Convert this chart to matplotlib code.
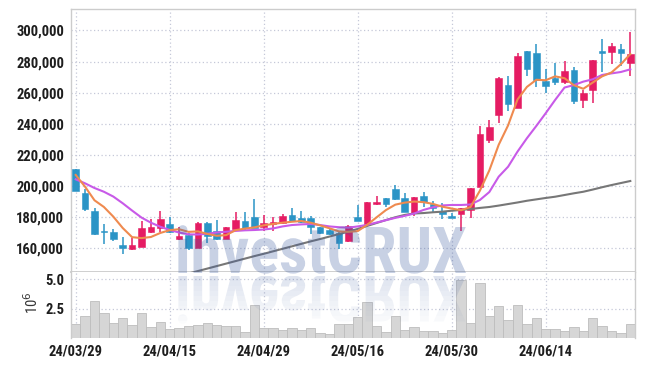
import numpy as np
import matplotlib
matplotlib.use("Agg")
import matplotlib.pyplot as plt
from matplotlib import font_manager
from matplotlib.textpath import TextPath
from matplotlib.patches import PathPatch
from matplotlib.transforms import Affine2D, IdentityTransform, Bbox

# --- donnees ---
opens = [210900, 195300, 183900, 170800, 170400, 162000, 159500, 161000, 170400, 173200,
         175600, 165900, 168500, 160300, 176400, 171100, 166100, 172300, 177500, 180100,
         173400, 175800, 176000, 181200, 179400, 179600, 173400, 171700, 169600, 164600,
         180100, 174900, 188600, 192300, 198100, 192500, 182600, 193600, 188200, 183900,
         180700, 181800, 184600, 199600, 229600, 245500, 264900, 250200, 286800, 285500,
         267500, 269400, 266600, 274600, 255300, 261700, 286800, 286400, 288000, 278800]
highs = [211000, 197900, 185700, 175400, 172300, 167000, 166800, 177500, 178600, 183900,
         180300, 173800, 169600, 176800, 177000, 178100, 173600, 183300, 183300, 191400,
         181200, 180300, 181800, 185900, 183900, 180500, 173800, 172800, 170200, 174900,
         187800, 189800, 193600, 192600, 200600, 195300, 192900, 196300, 190500, 188800,
         182800, 186000, 198700, 238600, 242400, 269800, 270700, 285300, 287000, 291300,
         275400, 279400, 280100, 276300, 261600, 281000, 294200, 292200, 291300, 298700]
lows = [196800, 184100, 168700, 162500, 164600, 156100, 158700, 160800, 169600, 170600,
        170000, 165000, 158800, 160000, 163500, 165000, 165700, 171100, 172000, 172800,
        171300, 171300, 175500, 176800, 176000, 168900, 169300, 168500, 159300, 163800,
        177200, 174300, 188000, 186500, 190800, 183000, 180700, 186500, 183200, 178800,
        179200, 171100, 179200, 199600, 227800, 240300, 248400, 250200, 270700, 263800,
        259700, 264800, 265500, 252700, 250200, 253400, 273400, 278300, 277000, 271000]
closes = [197000, 185000, 169100, 170400, 166100, 160300, 162000, 173000, 173600, 178800,
          170400, 167800, 160300, 176400, 168000, 165700, 173600, 178100, 173000, 173200,
          176200, 177000, 180500, 177300, 176600, 173400, 169600, 169100, 163500, 174100,
          177700, 189500, 189900, 188400, 191400, 183500, 192900, 189900, 185700, 181800,
          179600, 185700, 198500, 233400, 237900, 269400, 252900, 283600, 275500, 268200,
          264300, 267000, 273900, 254700, 260000, 280700, 285500, 290000, 285500, 284600]

ma5 = [207100, 199500, 190800, 186500, 180300, 173000, 167100, 166500, 167200, 169800,
       171600, 172200, 170500, 170800, 169200, 168000, 168400, 171600, 172600, 173400,
       174700, 175600, 176400, 177000, 177500, 176400, 174700, 172800, 170800, 170500,
       171000, 175000, 179800, 184500, 188000, 189300, 190000, 189600, 188500, 186700,
       185500, 184400, 186500, 197000, 210000, 226500, 239000, 255600, 263700, 268300,
       268000, 270500, 269300, 264800, 262500, 266500, 270500, 273000, 278300, 284800]
ma10 = [204300, 201700, 198700, 196300, 193200, 188900, 184200, 179700, 176400, 173800,
        171700, 170100, 168900, 168800, 169300, 170100, 170600, 171100, 171500, 171700,
        172000, 172700, 174000, 174900, 175300, 175600, 174900, 174000, 173500, 173200,
        174000, 175000, 176500, 178000, 179500, 180800, 182300, 184600, 186300, 187500,
        187800, 187800, 188100, 191000, 196100, 206000, 212400, 222100, 230700, 238600,
        246800, 255300, 263300, 264900, 267100, 268600, 271400, 272400, 273300, 275000]
ma60 = [np.nan] * 10 + [
        140700, 142200, 143700, 145300, 146900, 148500, 150100, 151700, 153300, 154900,
        156400, 158000, 159600, 161200, 162800, 164400, 165900, 167500, 169100, 170700,
        172400, 174300, 176200, 178100, 179900, 181400, 182300, 182600, 183100, 183500,
        184100, 184600, 185200, 185900, 186500, 187400, 188400, 189400, 190500, 191400,
        192300, 193100, 194200, 195300, 196300, 197700, 199200, 200600, 201900, 203200]

volumes = [1.22, 1.89, 3.15, 2.11, 1.28, 1.70, 1.13, 2.11, 0.94, 1.36,
           0.79, 0.86, 1.04, 1.13, 1.25, 1.09, 1.01, 0.99, 0.51, 2.76,
           0.81, 0.81, 0.64, 0.81, 0.64, 0.81, 0.42, 0.30, 1.15, 1.15,
           1.77, 3.09, 1.04, 0.48, 1.83, 0.70, 0.94, 0.56, 0.56, 0.45,
           0.70, 4.88, 1.29, 4.66, 1.88, 2.72, 1.54, 2.80, 1.20, 1.71,
           0.78, 0.78, 0.61, 0.95, 0.61, 1.71, 1.04, 0.61, 0.45, 1.20]

date_ticks = [0, 10, 20, 30, 40, 50]
date_labels = ['24/03/29', '24/04/15', '24/04/29', '24/05/16', '24/05/30', '24/06/14']
price_ticks = [160000, 180000, 200000, 220000, 240000, 260000, 280000, 300000]
vol_ticks = [2.5e6, 5.0e6]
vol_labels = ['2.5', '5.0']

# choisir une police qui a une vraie graisse bold
bold_fams = {f.name for f in font_manager.fontManager.ttflist
             if (f.weight if isinstance(f.weight, int) else 400) >= 600
             or str(f.weight).lower() in ('bold', 'semibold', 'demibold', 'heavy', 'black')}
font, fsize = 'DejaVu Sans', 9
for name, size in [('Liberation Sans Narrow', 11), ('Roboto Condensed', 10.5),
                   ('Lato', 10), ('Roboto', 9.8), ('Open Sans', 9.5)]:
    if name in bold_fams:
        font, fsize = name, size
        break
plt.rcParams['font.family'] = [font, 'DejaVu Sans']

UP, DOWN = '#e51c63', '#2b94c6'
GRID = '#c5c8d8'
SPINE = '#cccccc'

fig = plt.figure(figsize=(6.45, 3.66), dpi=100)
ax = fig.add_axes([71 / 645, 94 / 366, 564 / 645, 263 / 366])
axv = fig.add_axes([71 / 645, 28 / 366, 564 / 645, 66 / 366], sharex=ax)

x = np.arange(len(closes))
o, h, l, c = map(np.array, (opens, highs, lows, closes))
cols = np.where(c >= o, UP, DOWN)

ax.vlines(x, l, h, colors=cols, lw=1.1, zorder=2)
ax.bar(x, np.maximum(np.abs(c - o), 600), bottom=np.minimum(o, c), width=0.7,
       color=cols, edgecolor=cols, lw=0.4, zorder=3)
ax.plot(x, ma60, color='#777777', lw=1.5, zorder=4)
ax.plot(x, ma10, color='#c85ae8', lw=1.5, zorder=4)
ax.plot(x, ma5, color='#ef8a4f', lw=1.5, zorder=5)

ax.set_xlim(-0.5, len(closes) - 0.5)
ax.set_ylim(144700, 313800)
ax.set_yticks(price_ticks)
ax.set_yticklabels([f'{v:,}' for v in price_ticks])
ax.set_xticks(date_ticks)
ax.tick_params(axis='x', labelbottom=False)

axv.bar(x, np.array(volumes) * 1e6, width=1.0, color='#d6d6d6', edgecolor='#bdbdbd', lw=0.6, zorder=2)
axv.set_ylim(0, 5.6e6)
axv.set_yticks(vol_ticks)
axv.set_yticklabels(vol_labels)
axv.set_xticks(date_ticks)
axv.set_xticklabels(date_labels)

for a in (ax, axv):
    a.grid(True, color=GRID, linestyle=(0, (1, 2)), lw=0.9, zorder=0)
    a.set_axisbelow(True)
    a.tick_params(length=0, labelsize=fsize, colors='#1e1e1e', pad=5)
    for lab in a.get_xticklabels() + a.get_yticklabels():
        lab.set_fontweight('bold')
    for s in a.spines.values():
        s.set_color(SPINE)
        s.set_linewidth(1.0)
axv.spines['top'].set_visible(False)
axv.spines['bottom'].set_visible(False)
ax.spines['bottom'].set_linewidth(1.3)

fig.text(32 / 645, 1 - 303 / 366, '10$^6$', rotation=90, ha='center', va='center',
         fontsize=fsize, color='#333333')

# filigrane "investCRUX" et son reflet
fp = font_manager.FontProperties(family=font, weight='bold')
tp = TextPath((0, 0), 'investCRUX', size=60, prop=fp)
bb = tp.get_extents()
capx = TextPath((0, 0), 'X', size=60, prop=fp).get_extents().height
sx, sy = 288 / bb.width, 46 / capx
base = 366 - 273
main_tr = Affine2D().translate(-bb.x0, 0).scale(sx, sy).translate(178, base)
fig.add_artist(PathPatch(tp, transform=main_tr + IdentityTransform(),
                         facecolor='#3a5a9f', edgecolor='none', alpha=0.28, zorder=10))
refl_tr = Affine2D().translate(-bb.x0, 0).scale(sx, -sy).translate(178, base - 3)
nb = 10
for k in range(nb):
    y1 = base - 3 - k * 5
    p = PathPatch(tp, transform=refl_tr + IdentityTransform(),
                  facecolor='#3a5a9f', edgecolor='none', alpha=0.16 * (1 - k / nb), zorder=10)
    p.set_clip_box(Bbox.from_extents(0, y1 - 5, 645, y1))
    fig.add_artist(p)

fig.savefig('out.png', dpi=100)
